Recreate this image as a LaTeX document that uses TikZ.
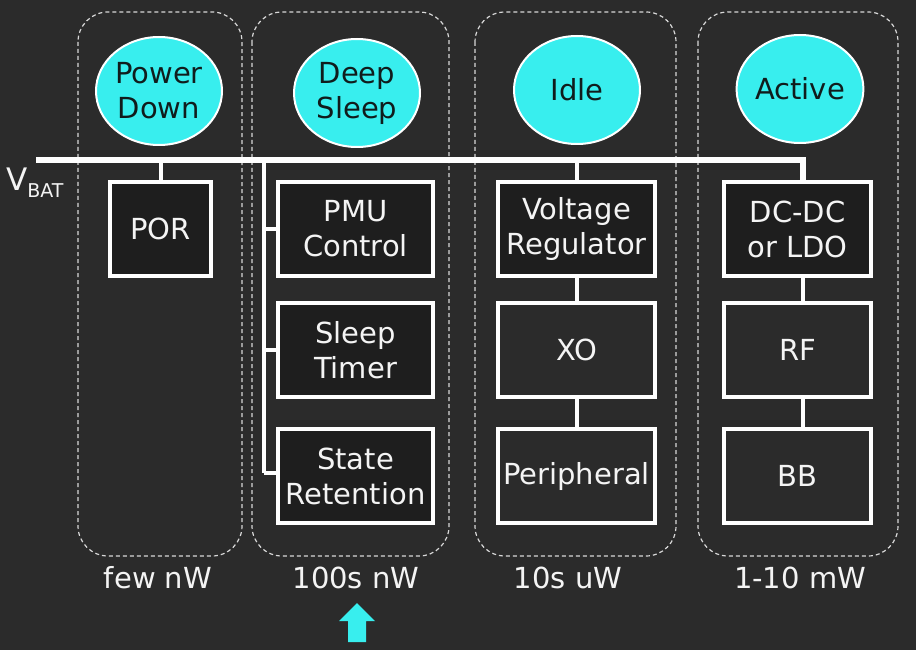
\documentclass[tikz,border=0pt]{standalone}
\usepackage{fontspec}
\setmainfont{DejaVu Sans}
\usetikzlibrary{shapes.geometric}
\definecolor{bgc}{HTML}{2B2B2B}
\definecolor{boxdark}{HTML}{1E1E1E}
\definecolor{cyanfill}{HTML}{38EEEE}
\definecolor{dashc}{HTML}{D8D8D8}
\definecolor{txtc}{HTML}{F4F4F4}
\definecolor{ovaltxt}{HTML}{101C1C}
\begin{document}
\begin{tikzpicture}[x=1pt,y=-1pt,
  colbox/.style={draw=dashc, line width=1.2pt, dash pattern=on 4pt off 3pt, rounded corners=30pt},
  oval/.style={ellipse, draw=white, line width=2pt, fill=cyanfill, text=ovaltxt, minimum width=126pt, minimum height=108pt, align=center, inner sep=0pt, font=\fontsize{29}{35}\selectfont},
  blk/.style={rectangle, draw=white, line width=3.5pt, text=txtc, minimum height=94pt, align=center, inner sep=0pt, font=\fontsize{29}{35}\selectfont},
  blkd/.style={blk, fill=boxdark},
  blkl/.style={blk, fill=bgc},
  wire/.style={draw=white, line width=4pt},
  buswire/.style={draw=white, line width=5.5pt},
  lbl/.style={text=txtc, font=\fontsize{29}{35}\selectfont, inner sep=0pt},
  uparrow/.style={fill=cyanfill, draw=none}
]
\useasboundingbox[fill=bgc] (0,0) rectangle (916,650);

% dashed columns
\draw[colbox] (78,12) rectangle (242,556);
\draw[colbox] (252,12) rectangle (449,556);
\draw[colbox] (475,12) rectangle (676,556);
\draw[colbox] (698,12) rectangle (898,556);

% state ovals
\node[oval] (pd) at (159,91) {Power\\Down};
\node[oval] (ds) at (357,93) {Deep\\Sleep};
\node[oval] (idle) at (577,90) {Idle};
\node[oval] (act) at (800,89) {Active};

% blocks
\node[blkd, minimum width=101pt] (por) at (160.5,229) {POR};
\node[blkd, minimum width=155pt] (pmu) at (355.5,229) {PMU\\Control};
\node[blkd, minimum width=155pt] (stim) at (355.5,350) {Sleep\\Timer};
\node[blkd, minimum width=155pt] (sret) at (355.5,476) {State\\Retention};
\node[blkd, minimum width=157pt] (vreg) at (576.5,229) {Voltage\\Regulator};
\node[blkl, minimum width=157pt] (xo) at (576.5,350) {XO};
\node[blkl, minimum width=157pt] (peri) at (576.5,476) {Peripheral};
\node[blkd, minimum width=147pt] (dcdc) at (797.5,229) {DC-DC\\or LDO};
\node[blkl, minimum width=147pt] (rf) at (797.5,350) {RF};
\node[blkl, minimum width=147pt] (bb) at (797.5,476) {BB};

% bus
\coordinate (busstart) at (36,160);
\coordinate (col4) at (803,160);
\coordinate (trunktop) at (264,160);
\coordinate (trunkbot) at (264,473);
\draw[buswire] (busstart) -- (col4) -- (col4 |- dcdc.north);
\draw[wire] (por.north) -- (por.north |- busstart);
\draw[wire] (vreg.north) -- (vreg.north |- busstart);
\draw[wire] (trunktop) -- (trunkbot);
\draw[wire] (pmu.west) -- (pmu.west -| trunktop);
\draw[wire] (stim.west) -- (stim.west -| trunktop);
\draw[wire] (sret.west |- trunkbot) -- (trunkbot);
\draw[wire] (vreg.south) -- (xo.north);
\draw[wire] (xo.south) -- (peri.north);
\draw[wire] (col4 |- dcdc.south) -- (col4 |- rf.north);
\draw[wire] (col4 |- rf.south) -- (col4 |- bb.north);

% VBAT label
\node[anchor=base west, text=txtc, inner sep=0pt] (vbat) at (6,190) {\fontsize{31}{36}\selectfont V\raisebox{-7pt}{\fontsize{19}{22}\selectfont BAT}};

% power labels
\node[lbl] (l1) at (158,578) {few nW};
\node[lbl] (l2) at (356,578) {100s nW};
\node[lbl] (l3) at (568,578) {10s uW};
\node[lbl] (l4) at (800,578) {1-10 mW};

% up arrow
\fill[uparrow] (357,603) -- (375,621) -- (366,621) -- (366,642) -- (348,642) -- (348,621) -- (339,621) -- cycle;
\end{tikzpicture}
\end{document}
